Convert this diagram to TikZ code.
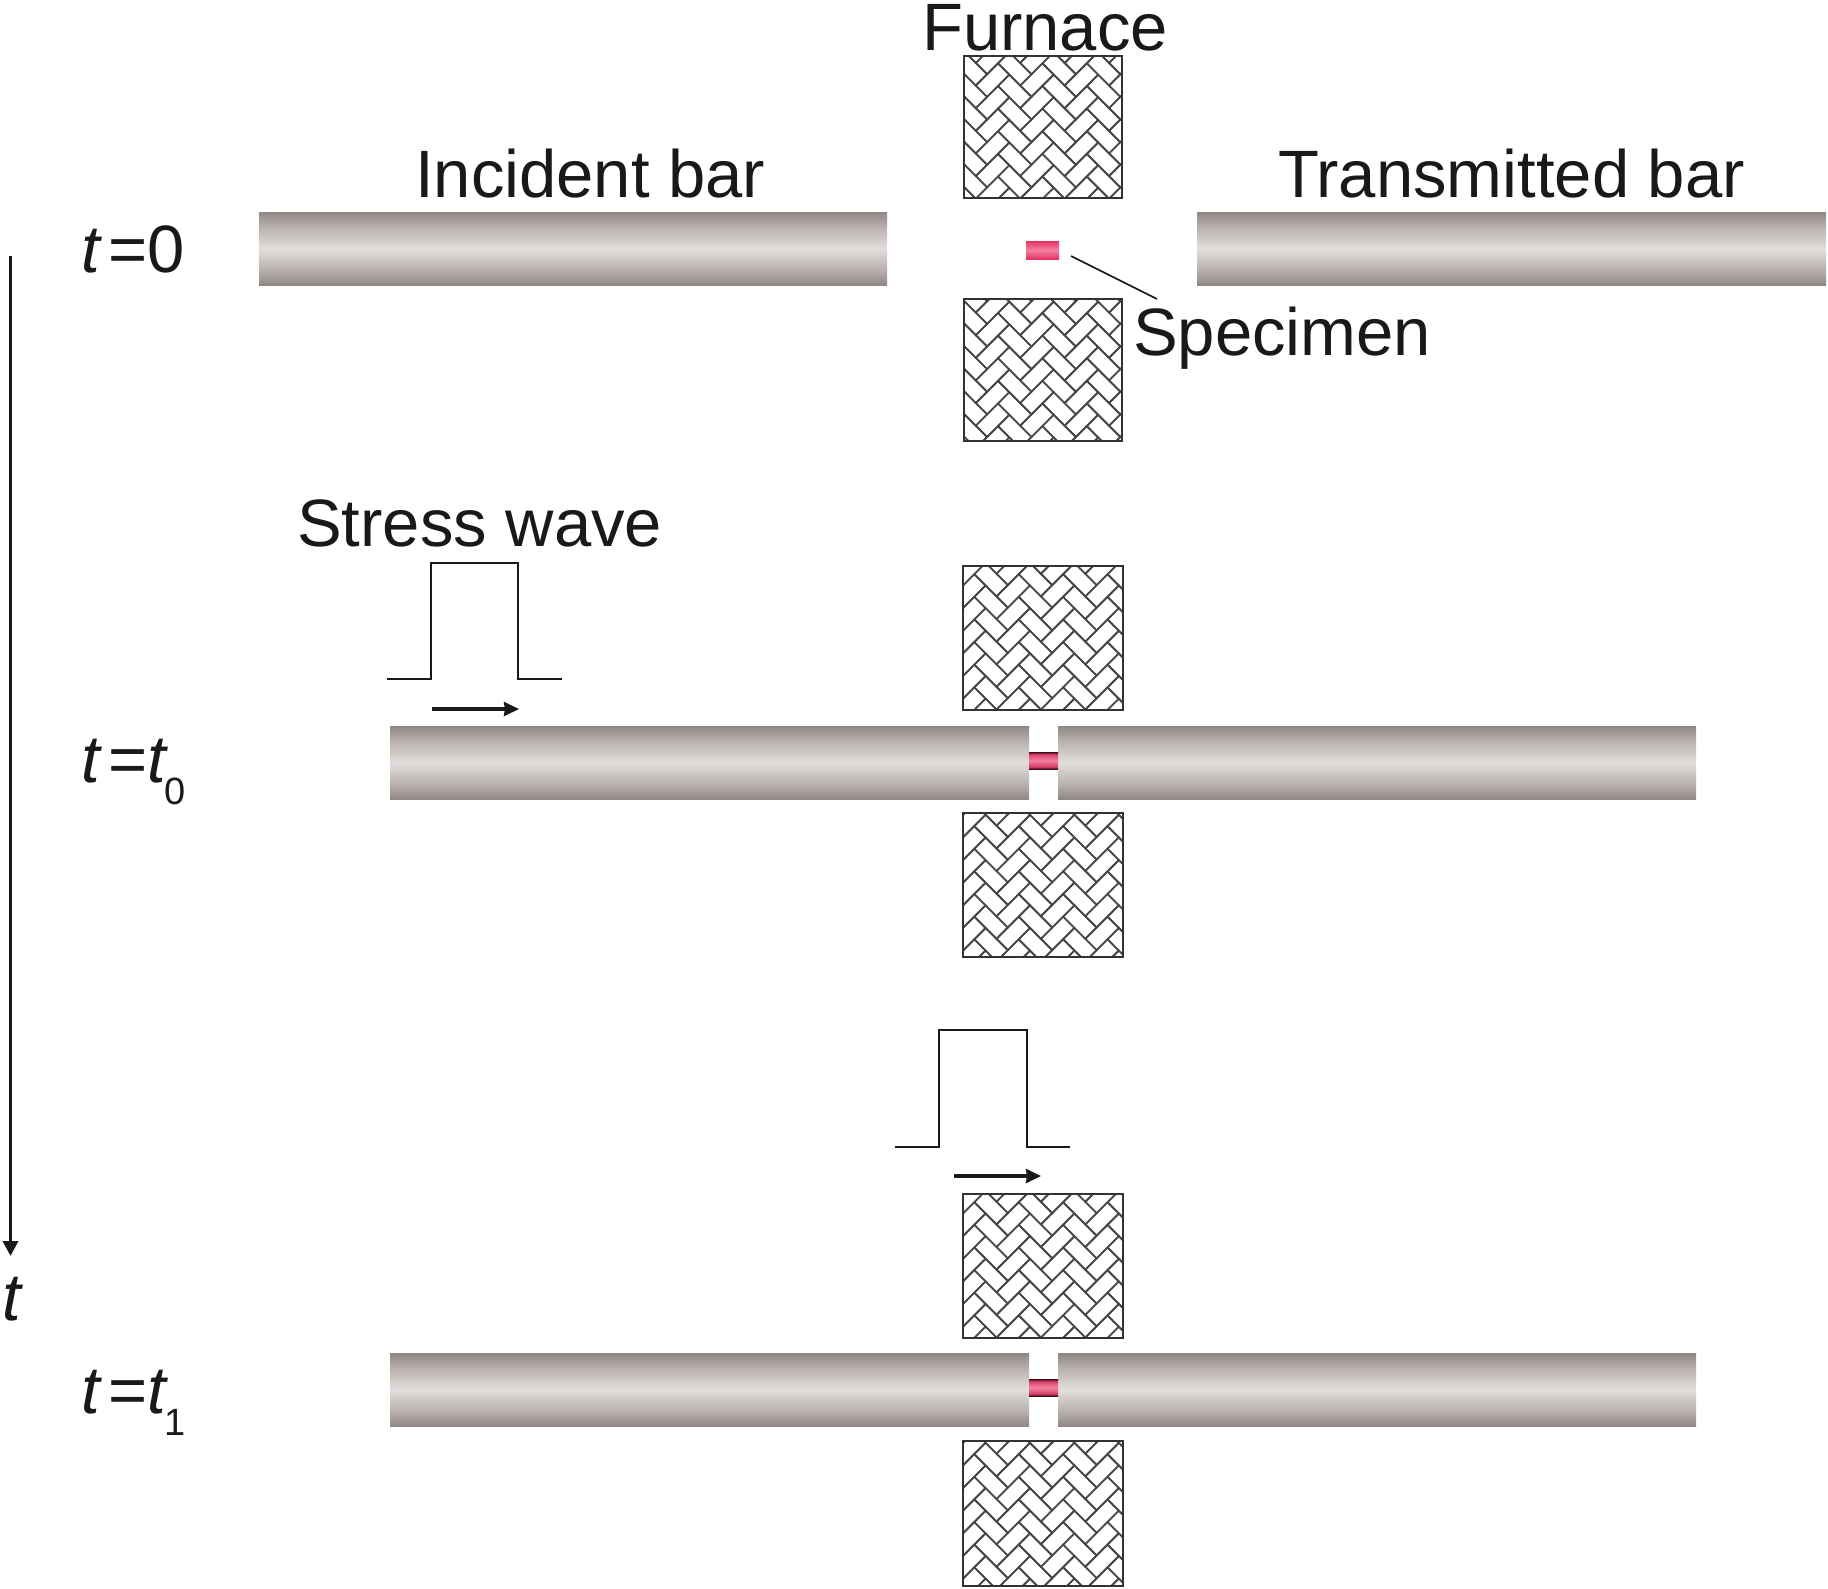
\documentclass[tikz,border=0pt]{standalone}
\usepackage{fontspec}
\setmainfont{Liberation Sans}
\usetikzlibrary{arrows.meta}
\pgfdeclareverticalshading{barshade}{100bp}{
 rgb(0bp)=(0.56,0.53,0.52);rgb(25bp)=(0.56,0.53,0.52);rgb(35bp)=(0.72,0.69,0.68);rgb(50bp)=(0.89,0.87,0.86);rgb(65bp)=(0.72,0.69,0.68);rgb(75bp)=(0.56,0.53,0.52);rgb(100bp)=(0.56,0.53,0.52)}
\pgfdeclareverticalshading{specshade}{100bp}{
 rgb(0bp)=(0.90,0.20,0.38);rgb(25bp)=(0.90,0.20,0.38);rgb(50bp)=(0.96,0.50,0.62);rgb(75bp)=(0.90,0.20,0.38);rgb(100bp)=(0.90,0.20,0.38)}
\pgfdeclareverticalshading{specdark}{100bp}{
 rgb(0bp)=(0.25,0.05,0.10);rgb(25bp)=(0.25,0.05,0.10);rgb(32bp)=(0.85,0.25,0.42);rgb(50bp)=(0.96,0.50,0.62);rgb(68bp)=(0.85,0.25,0.42);rgb(75bp)=(0.25,0.05,0.10);rgb(100bp)=(0.25,0.05,0.10)}
\tikzset{
 x=1pt,y=-1pt,
 lbl/.style={anchor=base west,inner sep=0pt,font=\fontsize{67}{70}\selectfont,text=black!90},
 barbody/.style={shading=barshade,draw=none},
 pulseline/.style={line width=2pt,black!90},
 wavearrow/.style={line width=3.4pt,black!90,-{Stealth[length=15pt,width=14pt,inset=1pt]}},
 brickline/.style={line width=1.7pt,black!72},
 boxline/.style={line width=2.4pt,black!80}
}
\newcommand{\furn}[8]{% x1 y1 x2 y2 phasex phasey uvec vvec
 \begin{scope}
  \clip (#1,#2) rectangle (#3,#4);
  \fill[white] (#1,#2) rectangle (#3,#4);
  \begin{scope}[shift={(#1+#5,#2+#6)},x={#7},y={#8}]
   \foreach \i in {-6,...,6}{\foreach \j in {-8,...,8}{
     \begin{scope}[shift={(31.4*\i+16*\j,-31.4*\i+16*\j)}]
       \draw[brickline] (0,0) -- (31.4,0) -- (31.4,16) -- (0,16) -- cycle;
       \draw[brickline] (31.4,16) -- (47.4,16) -- (47.4,-15.4) -- (31.4,-15.4) -- cycle;
     \end{scope}}}
  \end{scope}
 \end{scope}
 \draw[boxline] (#1,#2) rectangle (#3,#4);
}
\newcommand{\typeA}{{(0.7071pt,0.7071pt)}{(-0.7071pt,0.7071pt)}}
\newcommand{\tsub}[1]{{\itshape t}\kern9pt=\kern0pt{\itshape t}\kern-2pt\raisebox{-22pt}{\fontsize{38}{42}\selectfont #1}}
\begin{document}
\begin{tikzpicture}
\useasboundingbox (0,0) rectangle (1828,1588);
% t = 0
\shade[barbody] (259,212) rectangle (887,285);
\shade[barbody] (1197,212) rectangle (1826,285);
\shade[shading=specshade] (1026,241) rectangle (1059,259);
\furn{964}{56}{1122}{198}{23.1}{63.5}{(0.7071pt,0.7071pt)}{(-0.7071pt,0.7071pt)}
\furn{964}{299}{1122}{441}{23.1}{47.5}{(0.7071pt,0.7071pt)}{(-0.7071pt,0.7071pt)}
\node[lbl] (furnace) at (922,50) {Furnace};
\node[lbl] (incident) at (415,197) {Incident bar};
\node[lbl] (transmitted) at (1278,197) {Transmitted bar};
\node[lbl] (specimen) at (1133,355) {Specimen};
\node[lbl] (stress) at (297,546) {Stress wave};
\node[lbl] (t0) at (81,272) {{\itshape t}\kern9pt=\kern0pt 0};
\node[lbl] (tt0) at (81,782) {\tsub{0}};
\node[lbl] (tt1) at (81,1413) {\tsub{1}};
\node[lbl] (taxis) at (2,1320) {\itshape t};
\coordinate (callA) at (1071,256);
\coordinate (callB) at (1157,299);
\draw[line width=1.6pt,black!90] (callA) -- (callB);
% time axis
\coordinate (axisA) at (10.5,256);
\coordinate (axisB) at (10.5,1256);
\draw[line width=3.6pt,black!90,-{Stealth[length=15pt,width=15pt,inset=0pt]}] (axisA) -- (axisB);
% t = t0
\furn{963}{566}{1123}{710}{77.9}{120.9}{(-0.7071pt,0.7071pt)}{(0.7071pt,0.7071pt)}
\furn{963}{813}{1123}{957}{77.9}{103.2}{(-0.7071pt,0.7071pt)}{(0.7071pt,0.7071pt)}
\shade[barbody] (390,726) rectangle (1029,799);
\shade[barbody] (1058,726) rectangle (1696,799);
\shade[shading=specdark] (1029,752) rectangle (1058,769);
\draw[pulseline] (387,679) -- (431,679) -- (431,563) -- (518,563) -- (518,679) -- (562,679);
\coordinate (waveA) at (432,709);
\coordinate (waveB) at (519,709);
\draw[wavearrow] (waveA) -- (waveB);
% t = t1
\furn{963}{1194}{1123}{1338}{77.9}{120.9}{(-0.7071pt,0.7071pt)}{(0.7071pt,0.7071pt)}
\furn{963}{1441}{1123}{1586}{77.9}{103.2}{(-0.7071pt,0.7071pt)}{(0.7071pt,0.7071pt)}
\shade[barbody] (390,1353) rectangle (1029,1426);
\shade[barbody] (1058,1353) rectangle (1696,1426);
\shade[shading=specdark] (1029,1379) rectangle (1058,1396);
\draw[pulseline] (895,1147) -- (939,1147) -- (939,1030) -- (1027,1030) -- (1027,1147) -- (1070,1147);
\coordinate (waveC) at (954,1176);
\coordinate (waveD) at (1041,1176);
\draw[wavearrow] (waveC) -- (waveD);
\end{tikzpicture}
\end{document}
